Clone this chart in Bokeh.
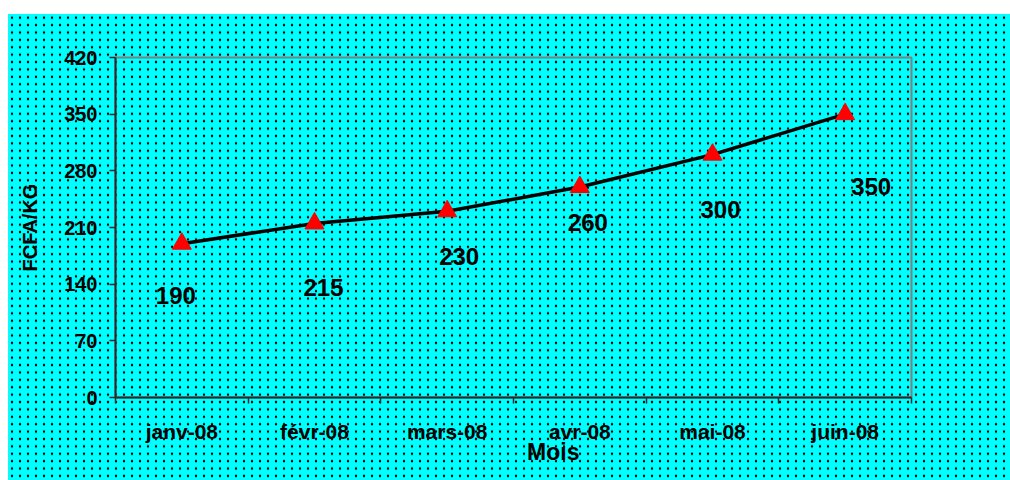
from bokeh.plotting import figure
from bokeh.models import Range1d, FixedTicker, CustomJSTickFormatter, LinearAxis, ColumnDataSource
from bokeh.core.properties import value
from bokeh.embed import file_html
from bokeh.resources import INLINE

# Monthly price, FCFA per kg
months = ["janv-08", "févr-08", "mars-08", "avr-08", "mai-08", "juin-08"]
prices = [190, 215, 230, 260, 300, 350]
y_ticks = [0, 70, 140, 210, 280, 350, 420]

# placement of each value label around its marker (screen px)
label_dx = [-6, 9, 12, 8, 8, 26]
label_dy = [52, 64, 45, 35, 55, 72]

FONT = "Liberation Sans"
AXIS_DARK = "#2a2a2a"

xs = [i + 0.5 for i in range(len(months))]
src = ColumnDataSource(dict(
    x=xs, y=prices, label=[str(v) for v in prices],
    dx=label_dx, dy=label_dy,
))

p = figure(
    width=1002, height=466,
    frame_width=796, frame_height=340,
    min_border_left=107, min_border_right=99,
    min_border_top=43, min_border_bottom=83,
    x_range=Range1d(0, len(months)), y_range=Range1d(0, 420),
    output_backend="svg", toolbar_location=None,
    background_fill_color=None, border_fill_color=None,
)
# cyan dotted backdrop
p.styles = {
    "margin-left": "8px",
    "margin-top": "14px",
    "background-color": "#00ffff",
    "background-image": "radial-gradient(circle, #000000 0px, #000000 1px, rgba(0,0,0,0) 1.6px)",
    "background-size": "8px 7.4px",
}

p.outline_line_color = "#808080"
p.outline_line_width = 2
p.xgrid.visible = False
p.ygrid.visible = False

# x axis: month names centred in each slot, ticks on the slot boundaries
xa = p.xaxis[0]
xa.ticker = FixedTicker(ticks=xs, minor_ticks=list(range(len(months) + 1)))
xa.formatter = CustomJSTickFormatter(args=dict(labels=months),
                                     code="return labels[Math.floor(tick)];")
xa.major_tick_out = 0
xa.major_tick_in = 0
xa.minor_tick_out = 6
xa.minor_tick_in = 0
xa.minor_tick_line_color = AXIS_DARK
xa.minor_tick_line_width = 1.5
xa.axis_line_color = AXIS_DARK
xa.axis_line_width = 2
xa.major_label_standoff = 16
xa.major_label_text_font = FONT
xa.major_label_text_font_style = "bold"
xa.major_label_text_font_size = "21px"
xa.major_label_text_color = "#000000"

# axis title "Mois", set a little right of centre
title_axis = LinearAxis(
    ticker=FixedTicker(ticks=[3.3], minor_ticks=[]),
    formatter=CustomJSTickFormatter(code="return 'Mois';"),
    major_tick_out=0, major_tick_in=0, axis_line_color=None,
    major_label_standoff=-7,
    major_label_text_font=FONT, major_label_text_font_style="bold",
    major_label_text_font_size="23px", major_label_text_color="#000000",
)
p.add_layout(title_axis, "below")

ya = p.yaxis[0]
ya.ticker = FixedTicker(ticks=y_ticks, minor_ticks=[])
ya.major_tick_out = 6
ya.major_tick_in = 0
ya.major_tick_line_color = AXIS_DARK
ya.major_tick_line_width = 1.5
ya.axis_line_color = AXIS_DARK
ya.axis_line_width = 2
ya.major_label_standoff = 12
ya.major_label_text_font = FONT
ya.major_label_text_font_style = "bold"
ya.major_label_text_font_size = "20px"
ya.major_label_text_color = "#000000"
ya.axis_label = "FCFA/KG"
ya.axis_label_standoff = 20
ya.axis_label_text_font = FONT
ya.axis_label_text_font_style = "bold"
ya.axis_label_text_font_size = "20px"
ya.axis_label_text_color = "#000000"

p.line("x", "y", source=src, line_color="#000000", line_width=3.5)
p.scatter("x", "y", source=src, marker="triangle", size=19,
          fill_color="#ff0000", line_color="#ff0000")
p.text("x", "y", text="label", source=src, x_offset="dx", y_offset="dy",
       text_align="center", text_baseline="middle",
       text_font=value(FONT), text_font_style="bold", text_font_size="24px",
       text_color="#000000")

open("out.html", "w").write(file_html(p, INLINE))
